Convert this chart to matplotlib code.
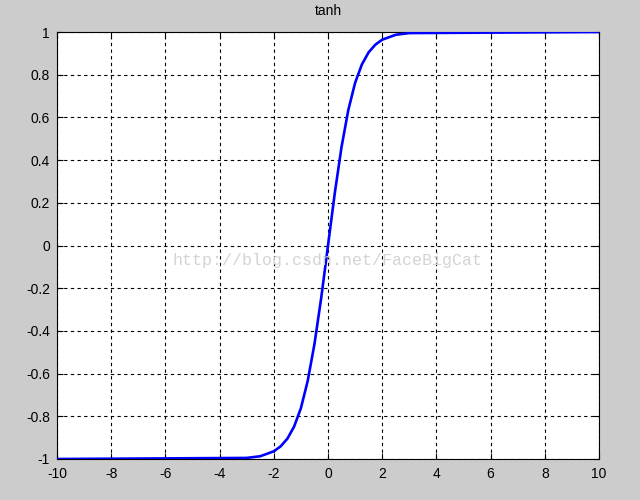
import matplotlib
matplotlib.use('Agg')
import matplotlib.pyplot as plt

# points
x_vals = [-10, -3, -2.5, -2, -1.75, -1.5, -1.25, -1, -0.75, -0.5, -0.25, 0,
          0.25, 0.5, 0.75, 1, 1.25, 1.5, 1.75, 2, 2.5, 3, 10]
y_vals = [-1, -0.995, -0.987, -0.964, -0.941, -0.905, -0.848, -0.762, -0.635,
          -0.462, -0.245, 0, 0.245, 0.462, 0.635, 0.762, 0.848, 0.905, 0.941,
          0.964, 0.987, 0.995, 1]

x_ticks = [-10, -8, -6, -4, -2, 0, 2, 4, 6, 8, 10]
y_ticks = [-1, -0.8, -0.6, -0.4, -0.2, 0, 0.2, 0.4, 0.6, 0.8, 1]
y_labels = ['-1', '-0.8', '-0.6', '-0.4', '-0.2', '0', '0.2', '0.4', '0.6', '0.8', '1']

plt.rcParams['font.family'] = ['Liberation Sans', 'DejaVu Sans']

fig = plt.figure(figsize=(6.4, 5.0), dpi=100, facecolor='#cccccc')
ax = fig.add_axes([0.089, 0.082, 0.847, 0.854])
ax.set_facecolor('white')

ax.plot(x_vals, y_vals, color='#0000ff', linewidth=1.9, zorder=3)

ax.set_xlim(-10, 10)
ax.set_ylim(-1, 1)
ax.set_xticks(x_ticks)
ax.set_xticklabels([str(t) for t in x_ticks])
ax.set_yticks(y_ticks)
ax.set_yticklabels(y_labels)
ax.tick_params(direction='in', length=4, labelsize=10, colors='black',
               top=True, right=True)
ax.tick_params(axis='x', pad=6)
ax.tick_params(axis='y', pad=5)
ax.grid(True, color='black', linestyle=(0, (3, 3)), linewidth=0.8)
for s in ax.spines.values():
    s.set_color('black')
    s.set_linewidth(0.8)

ax.set_title('tanh', fontsize=10, pad=12)

# watermark
ax.text(0.5, 0.465, 'http://blog.csdn.net/FaceBigCat', transform=ax.transAxes,
        ha='center', va='center', fontsize=12, color='#d4d4d4',
        family=['Liberation Mono', 'DejaVu Sans Mono'], zorder=4)

fig.savefig('out.png', dpi=100, facecolor=fig.get_facecolor())
